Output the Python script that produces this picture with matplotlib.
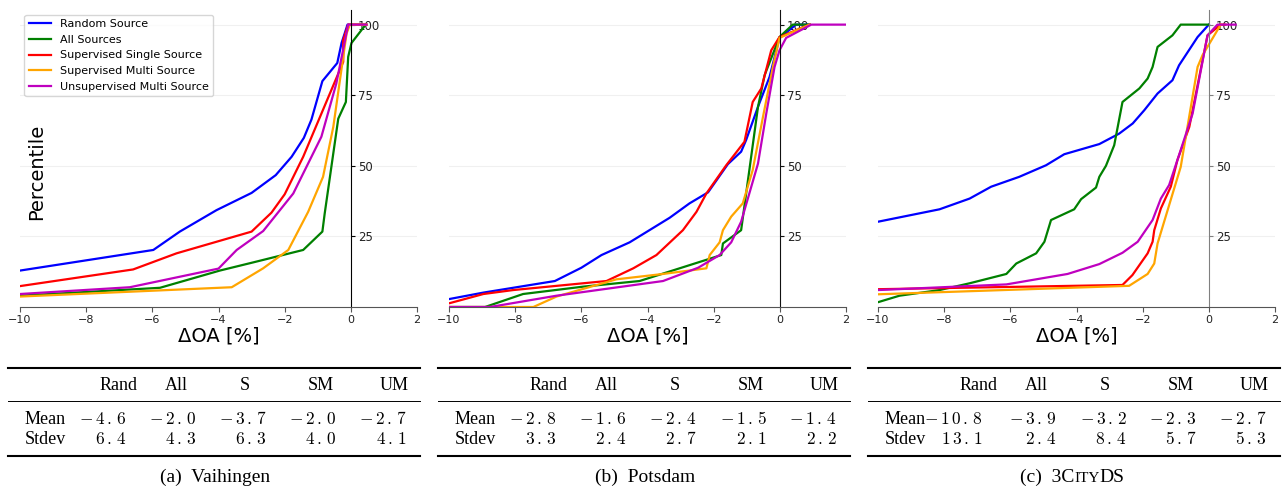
import matplotlib.pyplot as plt
from matplotlib.lines import Line2D

plt.rcParams['mathtext.fontset'] = 'cm'

W, H = 1282, 490

series_labels = ['Random Source', 'All Sources', 'Supervised Single Source',
                 'Supervised Multi Source', 'Unsupervised Multi Source']
series_colors = ['#0000ff', '#008000', '#ff0000', '#ffa500', '#bf00bf']

# (a) Vaihingen
vai_rand_x = [-10, -5.97, -5.17, -4.06, -3.0, -2.27, -1.79, -1.42, -1.19, -0.86, -0.41, -0.28, -0.1, 0.47]
vai_rand_y = [12.9, 20.2, 26.7, 34.3, 40.4, 46.7, 53.2, 59.9, 66.4, 80.0, 86.4, 93.5, 100, 100]
vai_all_x = [-10, -5.77, -3.96, -2.95, -1.44, -0.86, -0.79, -0.38, -0.15, -0.08, 0.02, 0.45]
vai_all_y = [4.0, 6.8, 12.9, 15.8, 20.2, 26.7, 33.1, 66.7, 72.6, 88.6, 93.5, 100]
vai_s_x = [-10, -6.58, -5.27, -3.0, -2.4, -2.0, -1.44, -0.23, -0.23, -0.08, 0.47]
vai_s_y = [7.4, 13.3, 19.0, 26.7, 33.4, 39.9, 53.2, 86.8, 94.5, 100, 100]
vai_sm_x = [-10, -3.6, -2.65, -1.89, -1.29, -0.84, -0.53, -0.13, -0.03, 0.47]
vai_sm_y = [3.7, 7.0, 13.7, 20.2, 33.7, 46.1, 63.8, 96.8, 100, 100]
vai_um_x = [-10, -6.68, -4.0, -3.45, -2.65, -1.74, -0.89, -0.44, -0.08, 0.47]
vai_um_y = [4.6, 7.0, 13.6, 20.2, 26.9, 40.2, 60.3, 79.1, 100, 100]

# (b) Potsdam
pot_rand_x = [-10, -8.96, -6.8, -6.0, -5.39, -4.54, -3.33, -2.73, -2.17, -1.57, -1.17, -1.02, -0.66, -0.31, -0.01, 0.49, 0.9]
pot_rand_y = [2.8, 5.1, 9.2, 13.9, 18.4, 22.9, 31.6, 36.7, 40.6, 50.6, 55.0, 59.1, 70.9, 81.5, 95.3, 100, 100]
pot_all_x = [-10, -8.91, -7.76, -5.95, -4.24, -2.17, -1.77, -1.72, -1.17, -0.66, -0.46, -0.01, 0.39, 0.9]
pot_all_y = [0, 0, 4.6, 7.2, 9.2, 16.9, 18.4, 22.5, 27.2, 70.9, 82.1, 95.6, 100, 100]
pot_s_x = [-10, -8.96, -8.06, -5.24, -4.43, -3.73, -2.93, -2.52, -2.22, -1.62, -1.07, -0.82, -0.56, -0.26, -0.01, 0.9]
pot_s_y = [1.3, 4.6, 6.0, 9.2, 13.7, 18.4, 27.2, 33.7, 40.2, 50.2, 58.5, 72.6, 77.4, 90.9, 95.6, 100]
pot_sm_x = [-10, -7.45, -6.75, -4.94, -3.53, -2.22, -2.12, -1.82, -1.72, -1.47, -1.12, -0.82, -0.51, -0.21, -0.01, 0.9]
pot_sm_y = [0, 0, 3.7, 9.8, 11.7, 13.7, 18.4, 22.9, 27.2, 32.0, 36.7, 48.5, 67.3, 85.0, 95.3, 100]
pot_um_x = [-10, -8.76, -6.75, -3.53, -2.47, -1.82, -1.47, -1.17, -0.66, -0.41, -0.16, -0.01, 0.19, 0.95, 2.0]
pot_um_y = [0, 0, 4.0, 9.2, 13.9, 18.4, 22.9, 30.2, 50.8, 68.5, 85.0, 90.9, 95.3, 100, 100]

# (c) 3CityDS
cty_rand_x = [-10, -8.14, -7.23, -6.58, -5.73, -4.92, -4.37, -3.31, -2.71, -2.3, -1.95, -1.55, -1.1, -0.9, -0.34, 0.0]
cty_rand_y = [30.2, 34.6, 38.4, 42.6, 46.1, 50.2, 54.1, 57.7, 61.4, 65.0, 69.7, 75.6, 80.3, 85.6, 95.6, 100]
cty_all_x = [-10, -9.35, -8.14, -7.23, -6.12, -5.82, -5.22, -4.97, -4.77, -4.07, -3.86, -3.41, -3.31, -3.11,
             -2.86, -2.61, -2.1, -1.85, -1.7, -1.55, -1.1, -0.85, 0.0]
cty_all_y = [1.7, 4.0, 6.0, 8.4, 11.7, 15.4, 19.0, 23.1, 30.8, 34.6, 38.2, 42.3, 46.1, 50.0,
             57.3, 72.6, 77.4, 80.9, 85.0, 92.1, 96.2, 100, 100]
cty_s_x = [-10, -2.61, -2.31, -1.85, -1.7, -1.65, -1.45, -1.15, -0.95, -0.59, -0.04, 0.36, 0.5]
cty_s_y = [6.3, 7.8, 11.3, 19.0, 23.1, 27.2, 34.9, 42.6, 52.0, 63.8, 96.2, 100, 100]
cty_sm_x = [-10, -2.41, -1.85, -1.65, -1.55, -0.85, -0.34, -0.19, 0.36]
cty_sm_y = [4.5, 7.5, 11.7, 15.4, 22.5, 49.6, 85.0, 89.2, 100]
cty_um_x = [-10, -6.12, -4.27, -3.31, -2.61, -2.15, -1.7, -1.45, -1.2, -0.9, -0.49, -0.04, 0.26, 0.81]
cty_um_y = [6.0, 8.0, 11.7, 15.2, 19.2, 23.1, 30.8, 38.4, 43.2, 53.8, 68.5, 96.2, 100, 100]

# tables
table_cols = ['Rand', 'All', 'S', 'SM', 'UM']
vai_mean = ['-4.6', '-2.0', '-3.7', '-2.0', '-2.7']
vai_std = ['6.4', '4.3', '6.3', '4.0', '4.1']
pot_mean = ['-2.8', '-1.6', '-2.4', '-1.5', '-1.4']
pot_std = ['3.3', '2.4', '2.7', '2.1', '2.2']
cty_mean = ['-10.8', '-3.9', '-3.2', '-2.3', '-2.7']
cty_std = ['13.1', '2.4', '8.4', '5.7', '5.3']

panels = [
    ([(vai_rand_x, vai_rand_y), (vai_all_x, vai_all_y), (vai_s_x, vai_s_y), (vai_sm_x, vai_sm_y), (vai_um_x, vai_um_y)],
     vai_mean, vai_std, '#000000'),
    ([(pot_rand_x, pot_rand_y), (pot_all_x, pot_all_y), (pot_s_x, pot_s_y), (pot_sm_x, pot_sm_y), (pot_um_x, pot_um_y)],
     pot_mean, pot_std, '#111111'),
    ([(cty_rand_x, cty_rand_y), (cty_all_x, cty_all_y), (cty_s_x, cty_s_y), (cty_sm_x, cty_sm_y), (cty_um_x, cty_um_y)],
     cty_mean, cty_std, '#808080'),
]


def fx(x):
    return x / W


def fy(y):
    return 1 - y / H


def num(s):
    # slightly spaced math digits like in the table
    body = s.lstrip('-')
    sign = r'-\,' if s.startswith('-') else ''
    return '$' + sign + r'\,'.join(list(body)) + '$'


fig = plt.figure(figsize=(W / 100, H / 100), dpi=100)
serif = 'Liberation Serif'

offsets = [0, 430, 860]
axes_left = [20, 449, 878]
first_col = [127, 127, 123]

for i, (curves, means, stds, yspine) in enumerate(panels):
    ax = fig.add_axes([fx(axes_left[i]), fy(307), 397 / W, (307 - 10.5) / H])
    for (xs, ys), c, lab in zip(curves, series_colors, series_labels):
        ax.plot(xs, ys, color=c, lw=1.6, label=lab)
    ax.set_xlim(-10, 2)
    ax.set_ylim(0, 105)
    ax.set_xticks([-10, -8, -6, -4, -2, 0, 2])
    ax.set_yticks([25, 50, 75, 100])
    ax.grid(axis='y', color='#f0f0f0', lw=0.8)
    ax.set_axisbelow(True)
    ax.spines['top'].set_visible(False)
    ax.spines['left'].set_visible(False)
    ax.spines['right'].set_position(('data', 0))
    ax.spines['right'].set_color(yspine)
    ax.spines['bottom'].set_color('#555555')
    ax.yaxis.tick_right()
    ax.tick_params(axis='y', labelsize=8.5, length=3, pad=2, color=yspine, labelcolor='#222222')
    ax.tick_params(axis='x', labelsize=8, length=3.5, pad=2, color='#555555', labelcolor='#222222')
    ax.set_xlabel('ΔOA [%]', fontsize=14, labelpad=1)
    if i == 0:
        ax.legend(loc='upper left', fontsize=8, borderaxespad=0.4, handlelength=2.0)
        fig.text(fx(37), fy(172), 'Percentile', rotation=90, fontsize=14, ha='center', va='center')

    # table under the chart
    o = offsets[i]
    for y, lw in [(367.5, 1.5), (401, 0.7), (455.5, 1.5)]:
        fig.add_artist(Line2D([fx(o + 8), fx(o + 420)], [fy(y), fy(y)], color='black', lw=lw))
    head_x = [118.5, 176.5, 245, 320.5, 394.5]
    for hx, col in zip(head_x, table_cols):
        fig.text(fx(o + hx), fy(390), col, ha='center', va='baseline', fontsize=13, family=serif)
    fig.text(fx(o + 25), fy(424), 'Mean', ha='left', va='baseline', fontsize=13, family=serif)
    fig.text(fx(o + 25), fy(444), 'Stdev', ha='left', va='baseline', fontsize=13, family=serif)
    num_x = [first_col[i], 197, 267, 337, 407]
    for nx, m, s in zip(num_x, means, stds):
        fig.text(fx(o + nx), fy(424), num(m), ha='right', va='baseline', fontsize=12.5)
        fig.text(fx(o + nx), fy(444), num(s), ha='right', va='baseline', fontsize=12.5)

# captions
fig.text(fx(215), fy(482), '(a)  Vaihingen', ha='center', va='baseline', fontsize=14, family=serif)
fig.text(fx(645), fy(482), '(b)  Potsdam', ha='center', va='baseline', fontsize=14, family=serif)

renderer = fig.canvas.get_renderer()
pieces = [('(c)  3C', 14), ('ITY', 11), ('DS', 14)]
texts = []
for s, size in pieces:
    t = fig.text(0, fy(482), s, ha='left', va='baseline', fontsize=size, family=serif)
    texts.append(t)
widths = [t.get_window_extent(renderer).width for t in texts]
start = 1072 - sum(widths) / 2
for t, w in zip(texts, widths):
    t.set_x(start / W)
    start += w

fig.savefig('out.png', dpi=100)
